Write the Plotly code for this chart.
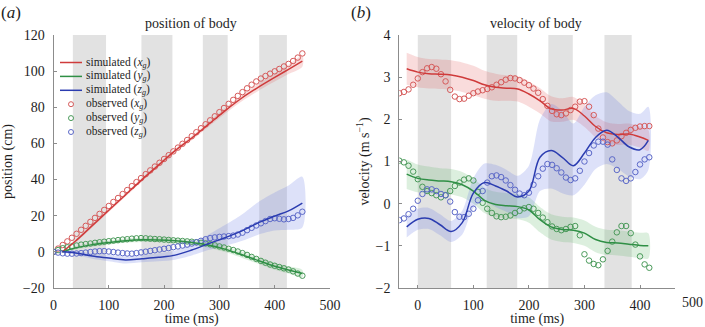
import plotly.graph_objects as go

# ---------------- data : panel (a) position of body ----------------
t_obs_a = [0, 8.3, 16.7, 25, 33.3, 41.7, 50, 58.3, 66.7, 75, 83.3, 91.7, 100, 108.3, 116.7,
           125, 133.3, 141.7, 150, 158.3, 166.7, 175, 183.3, 191.7, 200, 208.3, 216.7, 225,
           233.3, 241.7, 250, 258.3, 266.7, 275, 283.3, 291.7, 300, 308.3, 316.7, 325, 333.3,
           341.7, 350, 358.3, 366.7, 375, 383.3, 391.7, 400, 408.3, 416.7, 425, 433.3, 441.7, 450]
xg_obs_a = [0, 1.8, 3.8, 5.8, 7.8, 10, 12.2, 14.4, 16.6, 18.8, 21, 23.2, 25.4, 27.6, 29.8, 32,
            34.2, 36.4, 38.6, 40.8, 43, 45.1, 47.2, 49.3, 51.4, 53.5, 55.6, 57.7, 59.8, 61.9, 64,
            66.2, 68.4, 70.6, 72.8, 75, 77.3, 79.6, 81.9, 84.1, 86.3, 88.4, 90.5, 92.5, 94.3,
            95.9, 97.3, 98.6, 99.9, 101.2, 102.6, 104, 105.6, 107.5, 109.8]
yg_obs_a = [0, 1.0, 2.0, 2.5, 3.0, 3.5, 4.0, 4.3, 4.6, 5.0, 5.3, 5.6, 5.9, 6.2, 6.5, 6.8, 7.0,
            7.3, 7.5, 7.6, 7.5, 7.3, 7.1, 7.0, 6.8, 6.6, 6.4, 6.2, 6.0, 5.8, 5.6, 5.3, 5.0, 4.7,
            4.2, 3.6, 3.0, 2.4, 1.7, 1.0, 0.2, -0.7, -1.7, -2.8, -3.9, -5.0, -6.0, -7.0, -7.7,
            -8.4, -9.1, -9.8, -10.8, -12.0, -13.2]
zg_obs_a = [0, -0.4, -0.8, -1.0, -1.0, -0.9, -0.7, -0.4, -0.1, 0.2, 0.4, 0.4, 0.2, -0.1, -0.4,
            -0.7, -0.9, -1.0, -0.7, -0.3, 0.1, 0.5, 0.9, 1.3, 1.7, 2.1, 2.6, 3.0, 3.5, 4.0, 4.6,
            5.3, 6.1, 7.0, 7.6, 8.0, 8.3, 8.5, 8.7, 9.0, 9.6, 10.6, 12.0, 13.3, 14.6, 15.8, 17.0,
            18.2, 18.6, 18.3, 18.0, 18.2, 18.8, 20.2, 22.2]

t_sim_a = [16, 40, 70, 100, 130, 160, 190, 220, 250, 280, 310, 340, 370, 400, 425, 450]
xg_sim_a = [0, 6, 14.5, 23, 31.5, 40, 48, 56, 63, 70.5, 78, 85, 91, 96.5, 101, 105.5]
yg_sim_a = [0, 2.2, 4, 5.2, 6.2, 6.7, 6.6, 6.1, 5.2, 3.8, 1.5, -1.5, -4.8, -8, -10, -12]
zg_sim_a = [0, -0.6, -2.3, -3.4, -4.5, -3.8, -3.0, -1.8, 1.0, 4.5, 7.8, 11.5, 16, 19.8, 22.7, 27]
xg_sd_a = [0.5, 0.8, 1, 1, 1, 1, 1, 1, 1.2, 1.4, 1.6, 1.8, 2, 2.3, 2.6, 3]
yg_sd_a = [0.5, 1, 1.2, 1.2, 1.2, 1.2, 1.2, 1.3, 1.4, 1.5, 1.6, 1.7, 1.8, 1.9, 2, 2]
zg_up_a = [0.5, 1, 1.5, 1.8, 2, 2, 2.2, 2.5, 3.5, 5, 7, 9, 11.5, 13, 14, 14.6]
zg_dn_a = [0.5, 1, 1.5, 1.8, 2, 2, 2.2, 2.5, 3, 3.5, 4.5, 5.5, 6.5, 8, 10.5, 13.5]

stance_a_start = [35, 159, 270, 372]
stance_a_end = [95, 215, 315, 422]

# ---------------- data : panel (b) velocity of body ----------------
t_obs_b = [-33.3, -25, -16.7, -8.3, 0, 8.3, 16.7, 25, 33.3, 41.7, 50, 58.3, 66.7, 75, 83.3,
           91.7, 100, 108.3, 116.7, 125, 133.3, 141.7, 150, 158.3, 166.7, 175, 183.3, 191.7,
           200, 208.3, 216.7, 225, 233.3, 241.7, 250, 258.3, 266.7, 275, 283.3, 291.7, 300,
           308.3, 316.7, 325, 333.3, 341.7, 350, 358.3, 366.7, 375, 383.3, 391.7, 400, 408.3, 416.7]
xg_obs_b = [2.62, 2.65, 2.71, 2.82, 2.97, 3.12, 3.21, 3.24, 3.2, 3.07, 2.9, 2.7, 2.54, 2.48,
            2.49, 2.56, 2.62, 2.66, 2.69, 2.72, 2.76, 2.82, 2.88, 2.94, 2.98, 2.97, 2.93, 2.87,
            2.81, 2.73, 2.63, 2.48, 2.32, 2.2, 2.12, 2.1, 2.14, 2.22, 2.3, 2.42, 2.43, 2.3, 2.1,
            1.78, 1.57, 1.46, 1.43, 1.5, 1.6, 1.68, 1.75, 1.8, 1.83, 1.84, 1.84]
yg_obs_b = [1.02, 0.98, 0.9, 0.76, 0.58, 0.4, 0.3, 0.25, 0.2, 0.15, 0.2, 0.3, 0.42, 0.5, 0.57,
            0.6, 0.55, 0.28, 0.02, -0.12, -0.22, -0.3, -0.32, -0.31, -0.28, -0.22, -0.17, -0.11,
            -0.08, -0.12, -0.22, -0.33, -0.44, -0.54, -0.6, -0.63, -0.6, -0.55, -0.53, -0.75,
            -1.2, -1.35, -1.43, -1.46, -1.32, -1.12, -0.9, -0.68, -0.53, -0.53, -0.7, -0.97,
            -1.25, -1.44, -1.52]
zg_obs_b = [-0.39, -0.35, -0.25, -0.12, 0.07, 0.23, 0.34, 0.34, 0.3, 0.23, 0.2, 0.05, -0.2,
            -0.31, -0.32, -0.24, -0.12, 0.08, 0.3, 0.5, 0.65, 0.67, 0.63, 0.55, 0.44, 0.33, 0.24,
            0.2, 0.26, 0.45, 0.65, 0.83, 0.94, 0.92, 0.84, 0.74, 0.62, 0.56, 0.6, 0.78, 1.0, 1.2,
            1.38, 1.47, 1.47, 1.4, 1.05, 0.8, 0.6, 0.54, 0.6, 0.75, 0.93, 1.05, 1.1]

t_sim_b = [-20, 0, 20, 40, 60, 80, 100, 120, 140, 160, 180, 200, 220, 240, 260, 280, 300, 320,
           340, 360, 380, 400, 415]
xg_sim_b = [3.2, 3.12, 3.08, 3.07, 3.05, 3.0, 2.92, 2.82, 2.76, 2.74, 2.72, 2.6, 2.44, 2.25,
            2.22, 2.26, 2.08, 1.83, 1.68, 1.64, 1.65, 1.58, 1.5]
yg_sim_b = [0.7, 0.6, 0.56, 0.54, 0.52, 0.45, 0.3, 0.08, -0.02, -0.05, -0.07, -0.15, -0.38,
            -0.55, -0.61, -0.63, -0.7, -0.85, -0.92, -0.93, -0.96, -0.99, -1.0]
zg_sim_b = [-0.55, -0.37, -0.35, -0.5, -0.66, -0.45, 0.25, 0.5, 0.42, 0.3, 0.16, 0.3, 1.1, 1.26,
            1.1, 0.9, 1.2, 1.57, 1.74, 1.58, 1.35, 1.28, 1.5]
xg_sd_b = [0.38, 0.36, 0.35, 0.35, 0.35, 0.35, 0.35, 0.33, 0.32, 0.3, 0.3, 0.3, 0.3, 0.3, 0.28,
           0.27, 0.26, 0.25, 0.25, 0.25, 0.25, 0.25, 0.25]
yg_sd_b = [0.35, 0.33, 0.32, 0.3, 0.3, 0.3, 0.3, 0.3, 0.3, 0.3, 0.3, 0.3, 0.3, 0.3, 0.3, 0.3,
           0.3, 0.3, 0.3, 0.3, 0.3, 0.3, 0.3]
zg_up_b = [0.25, 0.25, 0.25, 0.25, 0.25, 0.28, 0.35, 0.45, 0.5, 0.5, 0.5, 0.6, 0.9, 1.1, 1.1,
           1.0, 1.1, 1.0, 0.9, 0.85, 0.85, 0.85, 0.8]
zg_dn_b = [0.25, 0.25, 0.25, 0.25, 0.25, 0.28, 0.35, 0.45, 0.5, 0.5, 0.5, 0.6, 0.8, 0.9, 0.85,
           0.7, 0.75, 0.75, 0.8, 0.75, 0.7, 0.7, 0.7]

stance_b_start = [0, 124, 235, 336]
stance_b_end = [60, 179, 279, 385]

ticks_a_x = [0, 100, 200, 300, 400, 500]
ticks_a_y = [-20, 0, 20, 40, 60, 80, 100, 120]
ticks_b_x = [0, 100, 200, 300, 400]
ticks_b_y = [-2, -1, 0, 1, 2, 3, 4]

legend_labels = ["simulated (<i>x<sub>g</sub></i>)", "simulated (<i>y<sub>g</sub></i>)",
                 "simulated (<i>z<sub>g</sub></i>)", "observed (<i>x<sub>g</sub></i>)",
                 "observed (<i>y<sub>g</sub></i>)", "observed (<i>z<sub>g</sub></i>)"]

# ---------------- layout geometry ----------------
W, H = 705, 327
ML, MR, MT, MB = 53, 30, 35, 39
PW, PH = W - ML - MR, H - MT - MB


def px_x(px):
    return (px - ML) / PW


def px_y(py):
    return 1 - (py - MT) / PH


XA_DOM = [px_x(53.5), px_x(330)]
XB_DOM = [px_x(399.3), px_x(675)]
XA_RANGE = [0, 500]
XB_RANGE = [-33.3, 463]
YA_RANGE = [-20, 120]
YB_RANGE = [-2, 4]

FONT = "Liberation Serif"
TXT = "#1e1e1e"
AX = "#8c8c8c"
RED_L, GREEN_L, BLUE_L = "#cf3b3b", "#2f8f45", "#2b3cb0"
RED_M, GREEN_M, BLUE_M = "#d65a5a", "#4a9a5a", "#5b68c8"
RED_F, GREEN_F, BLUE_F = "rgba(228,95,95,0.22)", "rgba(95,180,105,0.22)", "rgba(100,120,228,0.22)"
STANCE = "#e2e2e2"

fig = go.Figure()


def add_band(t, mid, up, dn, color, xa, ya):
    hi = [m + u for m, u in zip(mid, up)]
    lo = [m - d for m, d in zip(mid, dn)]
    fig.add_trace(go.Scatter(x=list(t) + list(t)[::-1], y=hi + lo[::-1], mode="lines",
                             fill="toself", fillcolor=color,
                             line=dict(width=0, shape="spline", smoothing=0.8),
                             hoverinfo="skip", showlegend=False, xaxis=xa, yaxis=ya))


def add_line(t, v, color, xa, ya):
    fig.add_trace(go.Scatter(x=t, y=v, mode="lines",
                             line=dict(color=color, width=1.5, shape="spline", smoothing=1),
                             showlegend=False, xaxis=xa, yaxis=ya))


def add_obs(t, v, color, xa, ya):
    fig.add_trace(go.Scatter(x=t, y=v, mode="markers",
                             marker=dict(symbol="circle-open", size=5.5, color=color,
                                         line=dict(width=1, color=color)),
                             showlegend=False, xaxis=xa, yaxis=ya))


# panel (a)
add_band(t_sim_a, xg_sim_a, xg_sd_a, xg_sd_a, RED_F, "x", "y")
add_band(t_sim_a, yg_sim_a, yg_sd_a, yg_sd_a, GREEN_F, "x", "y")
add_band(t_sim_a, zg_sim_a, zg_up_a, zg_dn_a, BLUE_F, "x", "y")
add_obs(t_obs_a, xg_obs_a, RED_M, "x", "y")
add_obs(t_obs_a, yg_obs_a, GREEN_M, "x", "y")
add_obs(t_obs_a, zg_obs_a, BLUE_M, "x", "y")
add_line(t_sim_a, xg_sim_a, RED_L, "x", "y")
add_line(t_sim_a, yg_sim_a, GREEN_L, "x", "y")
add_line(t_sim_a, zg_sim_a, BLUE_L, "x", "y")

# panel (b)
add_band(t_sim_b, xg_sim_b, xg_sd_b, xg_sd_b, RED_F, "x2", "y2")
add_band(t_sim_b, yg_sim_b, yg_sd_b, yg_sd_b, GREEN_F, "x2", "y2")
add_band(t_sim_b, zg_sim_b, zg_up_b, zg_dn_b, BLUE_F, "x2", "y2")
add_obs(t_obs_b, xg_obs_b, RED_M, "x2", "y2")
add_obs(t_obs_b, yg_obs_b, GREEN_M, "x2", "y2")
add_obs(t_obs_b, zg_obs_b, BLUE_M, "x2", "y2")
add_line(t_sim_b, xg_sim_b, RED_L, "x2", "y2")
add_line(t_sim_b, yg_sim_b, GREEN_L, "x2", "y2")
add_line(t_sim_b, zg_sim_b, BLUE_L, "x2", "y2")

shapes = []
for s, e in zip(stance_a_start, stance_a_end):
    shapes.append(dict(type="rect", xref="x", yref="y domain", x0=s, x1=e, y0=0, y1=1,
                       fillcolor=STANCE, line=dict(width=0), layer="below"))
for s, e in zip(stance_b_start, stance_b_end):
    shapes.append(dict(type="rect", xref="x2", yref="y2 domain", x0=s, x1=e, y0=0, y1=1,
                       fillcolor=STANCE, line=dict(width=0), layer="below"))

tickfont = dict(family=FONT, size=14, color=TXT)
titlefont = dict(family=FONT, size=14, color=TXT)
common = dict(showline=True, linecolor=AX, linewidth=1, ticks="inside", ticklen=3,
              tickcolor=AX, tickwidth=1, showgrid=False, zeroline=False, tickfont=tickfont,
              automargin=False)

annotations = []
# panel letters and titles
annotations.append(dict(text="(<i>a</i>)", xref="paper", yref="paper", x=px_x(11), y=px_y(12),
                        xanchor="center", yanchor="middle", showarrow=False,
                        font=dict(family=FONT, size=17, color=TXT)))
annotations.append(dict(text="(<i>b</i>)", xref="paper", yref="paper", x=px_x(361), y=px_y(12),
                        xanchor="center", yanchor="middle", showarrow=False,
                        font=dict(family=FONT, size=17, color=TXT)))
annotations.append(dict(text="position of body", xref="paper", yref="paper",
                        x=px_x(191), y=px_y(23), xanchor="center", yanchor="middle",
                        showarrow=False, font=dict(family=FONT, size=14, color=TXT)))
annotations.append(dict(text="velocity of body", xref="paper", yref="paper",
                        x=px_x(536), y=px_y(23), xanchor="center", yanchor="middle",
                        showarrow=False, font=dict(family=FONT, size=14, color=TXT)))
# last tick label of panel (b), which lies beyond the end of its axis line
x500 = XB_DOM[0] + (500 - XB_RANGE[0]) / (XB_RANGE[1] - XB_RANGE[0]) * (XB_DOM[1] - XB_DOM[0])
annotations.append(dict(text="500", xref="paper", yref="paper", x=x500, y=px_y(302),
                        xanchor="center", xshift=-3, yanchor="middle", showarrow=False,
                        font=tickfont))

# legend (compact, as in the original figure)
LEG_X0, LEG_X1, LEG_TX = 60, 82, 84
LEG_Y0, LEG_DY = 62.5, 13.9
leg_colors = [RED_L, GREEN_L, BLUE_L, RED_M, GREEN_M, BLUE_M]
for i, (lab, col) in enumerate(zip(legend_labels, leg_colors)):
    yy = px_y(LEG_Y0 + i * LEG_DY)
    if i < 3:
        shapes.append(dict(type="line", xref="paper", yref="paper", x0=px_x(LEG_X0),
                           x1=px_x(LEG_X1), y0=yy, y1=yy, line=dict(color=col, width=1.5)))
    else:
        shapes.append(dict(type="circle", xref="paper", yref="paper", xsizemode="pixel",
                           ysizemode="pixel", xanchor=px_x((LEG_X0 + LEG_X1) / 2), yanchor=yy,
                           x0=-2.5, x1=2.5, y0=-2.5, y1=2.5, line=dict(color=col, width=1)))
    annotations.append(dict(text=lab, xref="paper", yref="paper", x=px_x(LEG_TX), y=yy,
                            xanchor="left", yanchor="middle", showarrow=False,
                            font=dict(family=FONT, size=11.5, color=TXT)))

fig.update_layout(
    width=W, height=H, margin=dict(l=ML, r=MR, t=MT, b=MB, autoexpand=False),
    paper_bgcolor="white", plot_bgcolor="white", showlegend=False,
    font=dict(family=FONT, color=TXT),
    xaxis=dict(domain=XA_DOM, range=XA_RANGE, tickvals=ticks_a_x, anchor="y",
               ticklabelstandoff=4,
               title=dict(text="time (ms)", font=titlefont, standoff=4), **common),
    yaxis=dict(domain=[0, 1], range=YA_RANGE, tickvals=ticks_a_y, anchor="x",
               ticklabelstandoff=5,
               title=dict(text="position (cm)", font=titlefont, standoff=6), **common),
    xaxis2=dict(domain=XB_DOM, range=XB_RANGE, tickvals=ticks_b_x, anchor="y2",
                ticklabelstandoff=4,
                title=dict(text="time (ms)", font=titlefont, standoff=4), **common),
    yaxis2=dict(domain=[0, 1], range=YB_RANGE, tickvals=ticks_b_y, anchor="x2",
                ticklabelstandoff=5,
                title=dict(text="velocity (m s<sup>−1</sup>)", font=titlefont, standoff=2),
                **common),
    shapes=shapes, annotations=annotations,
)

fig.write_html("out.html", config={"displayModeBar": False},
               post_script="document.body.style.margin='0';document.body.style.padding='0';")
